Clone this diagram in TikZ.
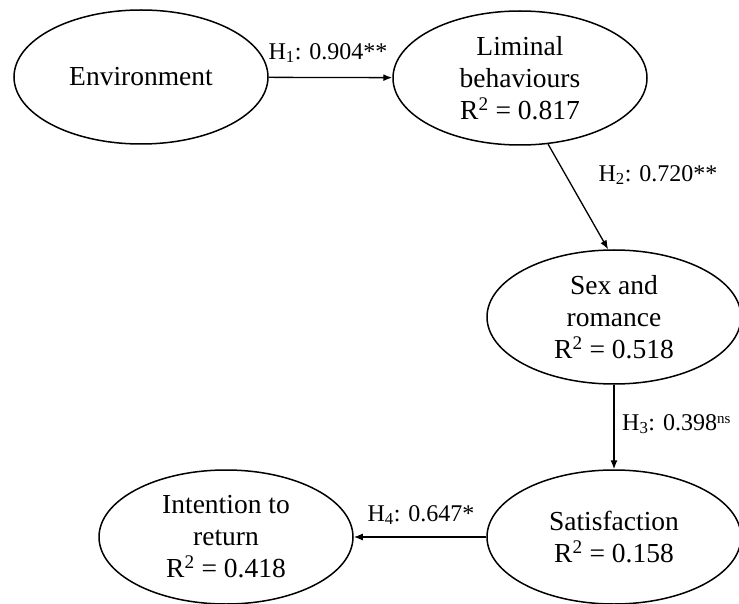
\documentclass[tikz,border=0pt]{standalone}
\usepackage{fontspec}
\setmainfont{Liberation Serif}
\usepackage{tikz}
\usetikzlibrary{shapes,arrows.meta,positioning,calc}

\begin{document}
\begin{tikzpicture}[x=1pt,y=-1pt,
  construct/.style={draw,ellipse,line width=1.5pt,align=center,inner sep=0pt,
    minimum width=254pt,minimum height=134pt,font=\fontsize{27.5}{32}\selectfont},
  path/.style={-{Latex[length=9pt,width=7pt]},line width=1.3pt},
  coef/.style={inner sep=0pt,font=\fontsize{24}{28}\selectfont}]
\useasboundingbox (0,0) rectangle (739,604);
\clip (0,0) rectangle (739,604);
\node[construct] (env) at (141,77) {Environment};
\node[construct] (lim) at (520,78) {Liminal\\behaviours\\R\textsuperscript{2} = 0.817};
\node[construct] (sex) at (614,317) {Sex and\\romance\\R\textsuperscript{2} = 0.518};
\node[construct] (sat) at (614,537) {Satisfaction\\R\textsuperscript{2} = 0.158};
\node[construct] (ret) at (226,537) {Intention to\\return\\R\textsuperscript{2} = 0.418};
\draw[path] (env) -- (lim);
\draw[path] (lim.-67) -- (sex.95);
\draw[path] (sex) -- (sat);
\draw[path] (sat) -- (ret);
\node[coef] (h1) at (328,53) {H\textsubscript{1}: 0.904**};
\node[coef] (h2) at (658,175) {H\textsubscript{2}: 0.720**};
\node[coef,anchor=west] (h3) at (622,424) {H\textsubscript{3}: 0.398{\fontsize{15}{16}\selectfont\raisebox{0.45em}{ns}}};
\node[coef] (h4) at (421,515) {H\textsubscript{4}: 0.647*};
\end{tikzpicture}
\end{document}
